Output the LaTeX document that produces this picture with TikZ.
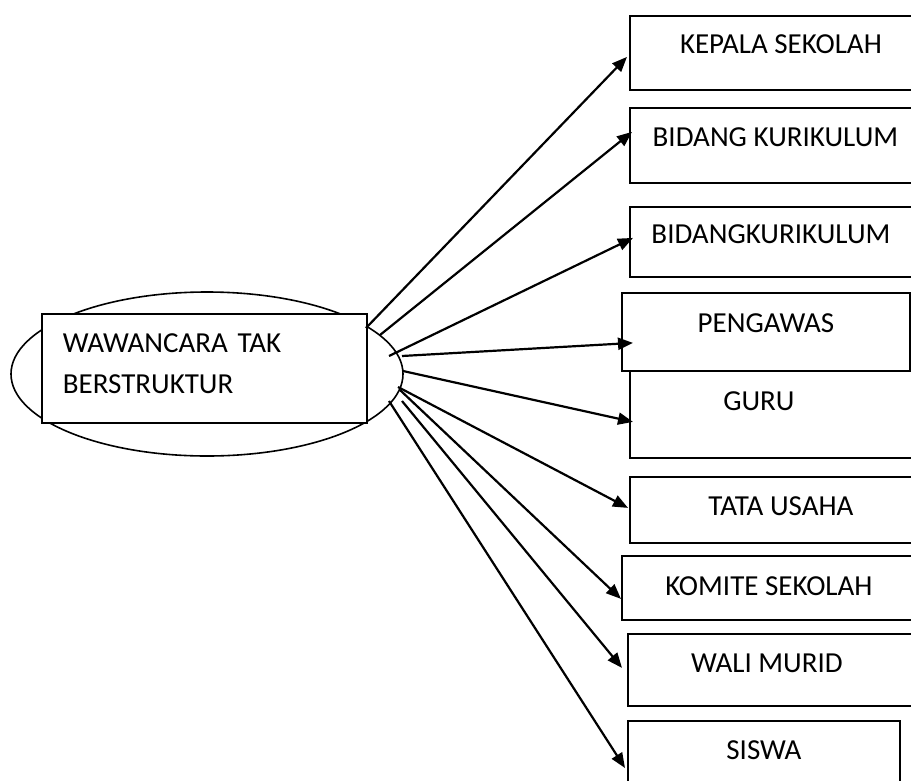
\documentclass[tikz,border=0pt]{standalone}
\usepackage{fontspec}
\setmainfont{Carlito}
\usetikzlibrary{arrows.meta,shapes.geometric,calc}

\begin{document}
\begin{tikzpicture}[x=1pt,y=-1pt,>={Triangle[length=15pt,width=12pt]},
                    line width=1.8pt]
  \tikzstyle{kotak}=[draw,line width=1.8pt,inner sep=0pt,anchor=north west,
                     font=\fontsize{29}{41}\selectfont]
  \useasboundingbox (0,0) rectangle (911,780);
  \clip (0,0) rectangle (911,780);

  \node[ellipse,draw,line width=1.6pt,minimum width=392pt,minimum height=164pt,
        inner sep=0pt] (lingkar) at (207,374) {};
  \node[kotak,fill=white,text width=283pt,inner xsep=21pt,text height=39pt,
        text depth=70pt,align=left] (wawancara) at (41,313) {WAWANCARA TAK\\BERSTRUKTUR};

  \node[kotak,minimum width=302pt,text height=38pt,text depth=36pt] (kepsek)     at (629,15)  {KEPALA SEKOLAH};
  \node[kotak,minimum width=291pt,text height=39pt,text depth=36pt] (kurikulum)  at (629,107) {BIDANG KURIKULUM};
  \node[kotak,minimum width=282pt,text height=37pt,text depth=33pt] (kurikulumb) at (629,206) {BIDANGKURIKULUM};
  \node[kotak,minimum width=288pt,text height=40pt,text depth=38pt] (pengawas)   at (621,292) {PENGAWAS};
  \node[kotak,minimum width=300pt,text height=40pt,text depth=47pt] (guru)       at (629,370) {GURU\hspace*{42pt}};
  \node[kotak,minimum width=302pt,text height=39pt,text depth=27pt] (tu)         at (629,476) {TATA USAHA};
  \node[kotak,minimum width=294pt,text height=40pt,text depth=24pt] (komite)     at (621,555) {KOMITE SEKOLAH};
  \node[kotak,minimum width=300pt,text height=39pt,text depth=33pt] (wali)       at (627,633) {WALI MURID\hspace*{22pt}};
  \node[kotak,minimum width=272pt,text height=39pt,text depth=45pt] (siswa)      at (627,720) {SISWA};

  % pangkal panah di sisi kanan elips
  \coordinate (p1) at (366,328);
  \coordinate (p2) at (380,335);
  \coordinate (p3) at (389,356);
  \coordinate (p4) at (402,356);
  \coordinate (p5) at (403,371);
  \coordinate (p6) at (398,387);
  \coordinate (p7) at (400,390);
  \coordinate (p8) at (402,401);
  \coordinate (p9) at (389,401);

  \path[->,line width=2.2pt]
        (p1) edge ($(kepsek.west)+(-2,4)$)
        (p2) edge ($(kurikulum.west)+(3,-13.5)$)
        (p3) edge ($(kurikulumb.west)+(4,-4)$)
        (p4) edge ($(pengawas.west)+(12,11)$)
        (p5) edge ($(guru.west)+(4,7.5)$)
        (p6) edge ($(tu.west)+(-1,-2)$)
        (p7) edge ($(komite.west)+(0,11)$)
        (p8) edge ($(wali.west)+(-5,-2)$)
        (p9) edge ($(siswa.north west)+(-2,48)$);
\end{tikzpicture}
\end{document}
